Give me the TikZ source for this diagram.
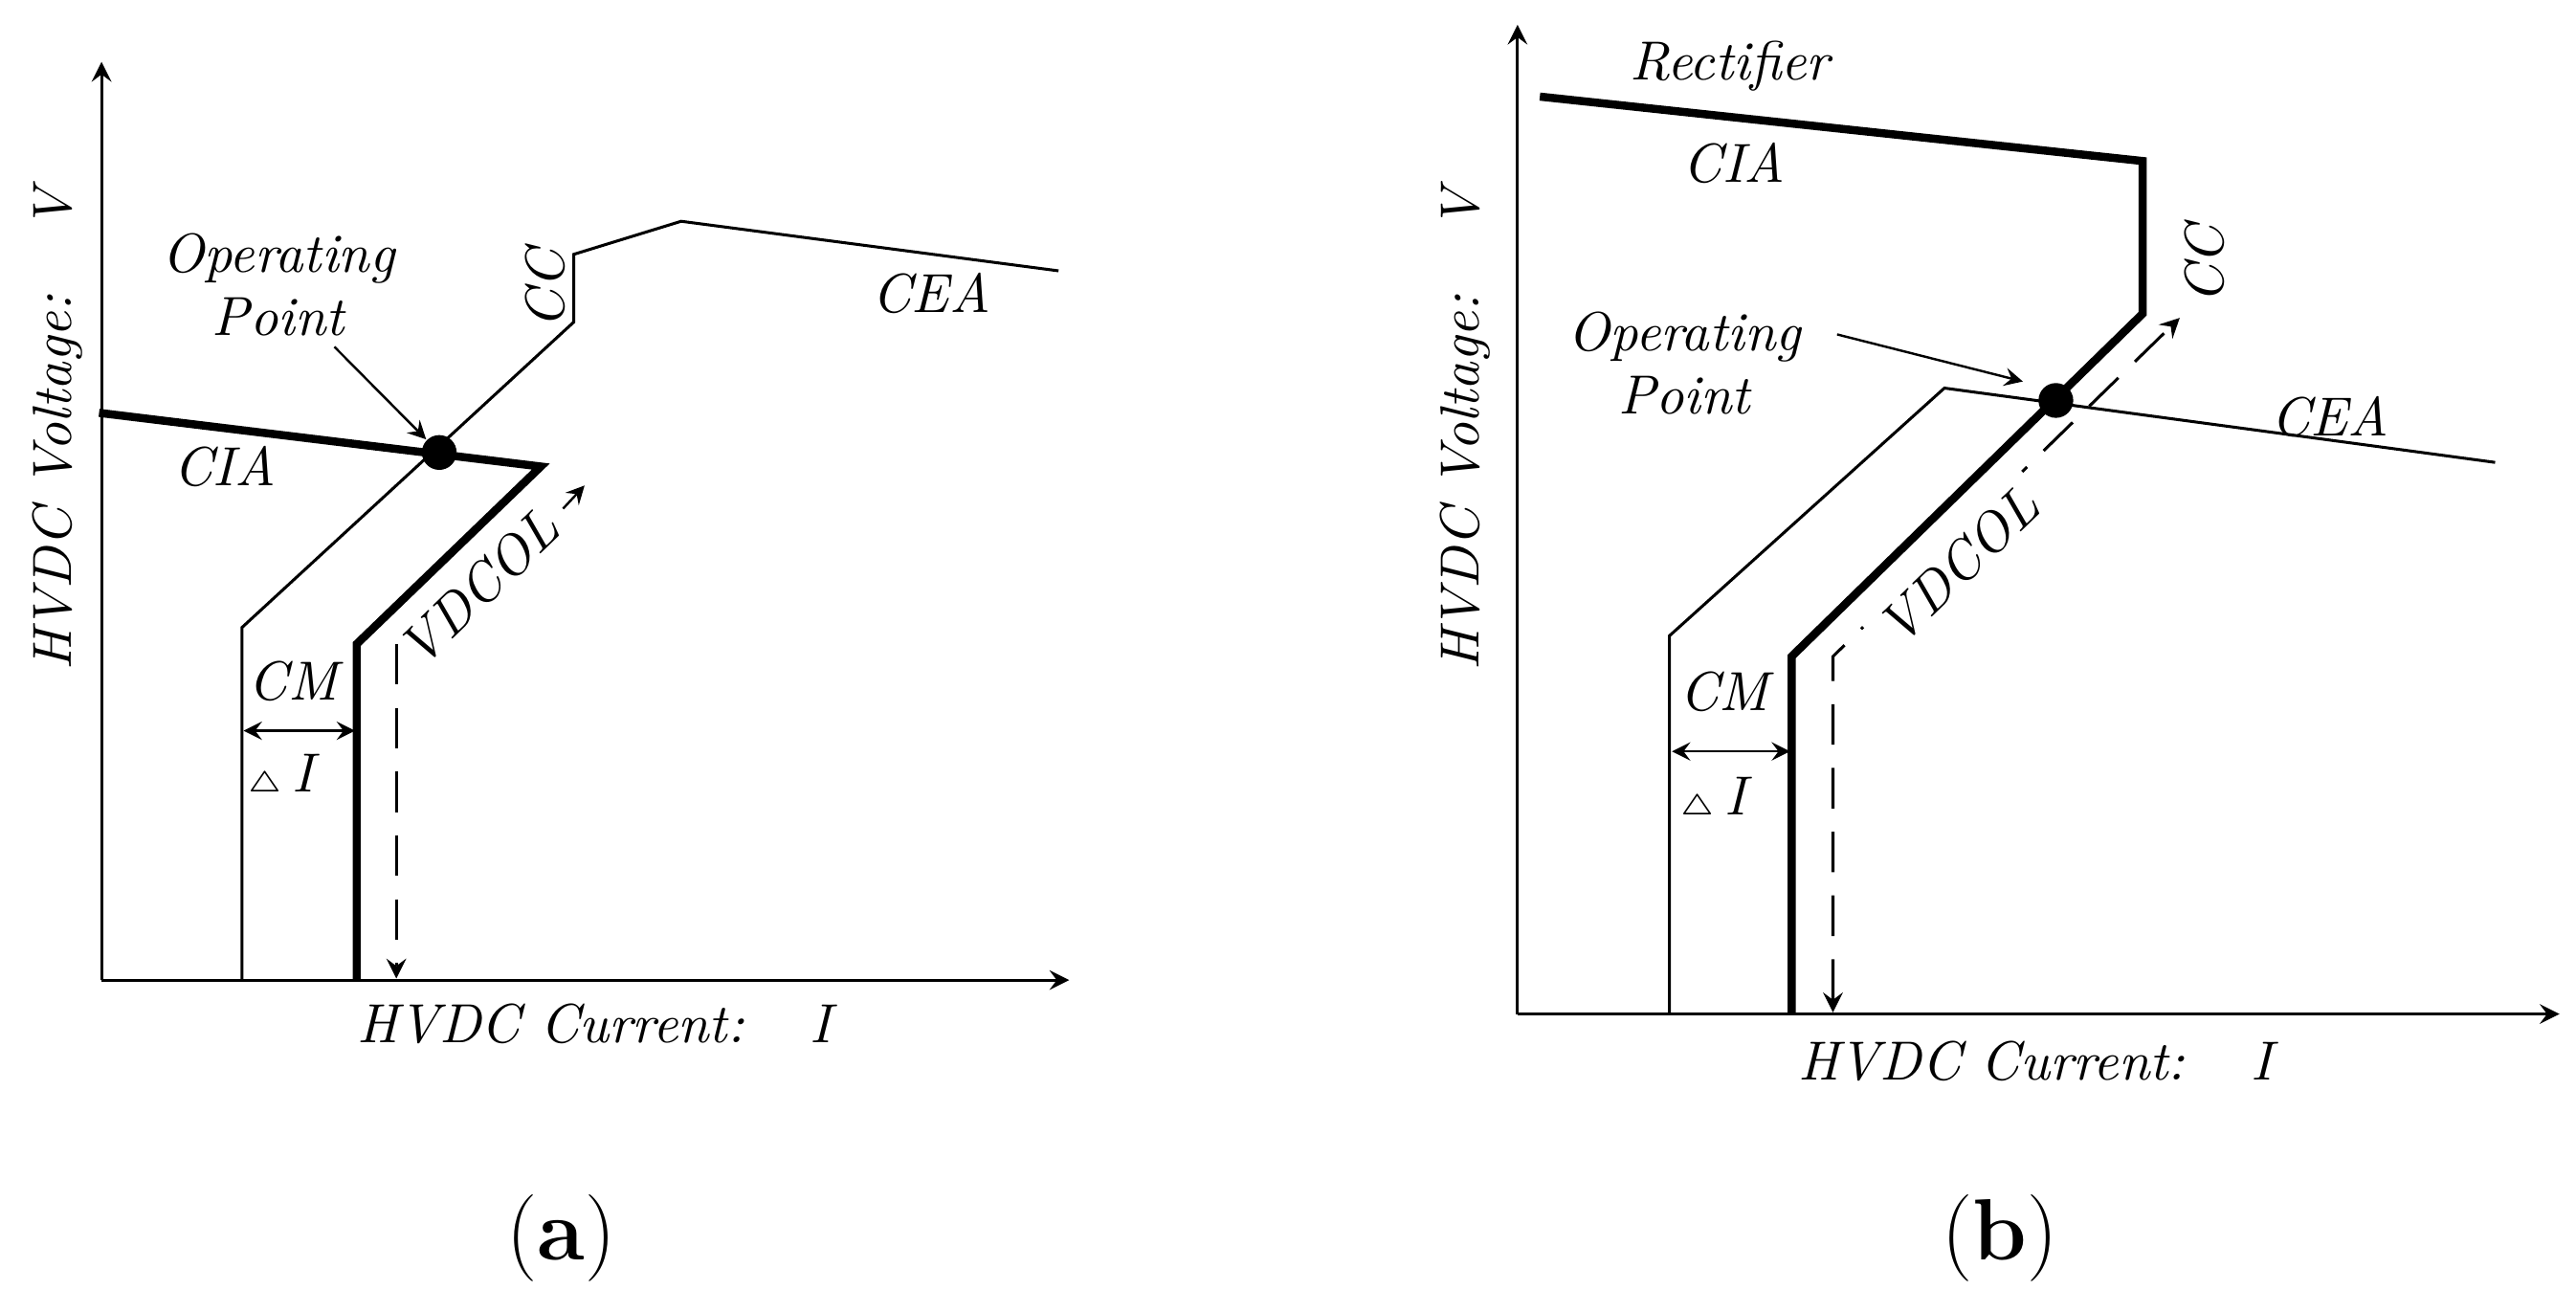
\documentclass[tikz,border=0pt]{standalone}
\begin{document}
\begin{tikzpicture}[x=0.005cm,y=-0.005cm,
  lbl/.style={font=\fontsize{9.5}{11}\selectfont\itshape,inner sep=1pt},
  thinln/.style={line width=0.5pt},
  thickln/.style={line width=1.4pt},
  ax/.style={line width=0.5pt,->,>=stealth},
  sm/.style={->,>=stealth,line width=0.4pt},
  dashln/.style={line width=0.5pt,dash pattern=on 7pt off 4pt},
  dot/.style={circle,fill,inner sep=0pt,minimum size=6pt},
  captxt/.style={font=\fontsize{15}{17}\selectfont}]
\useasboundingbox (0,0) rectangle (3120,1590);
% ---------- panel (a) ----------
\coordinate (aO) at (123,1187);
\coordinate (aY) at (123,75);
\coordinate (aX) at (1295,1187);
\draw[ax] (aO) -- (aY);
\draw[ax] (aO) -- (aX);
\draw[thinln] (293,1187) -- (293,760) -- (695,390) -- (695,308) -- (825,268) -- (1282,328);
\draw[thickln,line join=miter] (120,500) -- (655,565) -- (432,780) -- (432,1187);
\coordinate (aD1) at (480,780);
\coordinate (aD2) at (480,1185);
\draw[dashln,->,>=stealth] (aD1) -- (aD2);
\node[dot] (aP) at (532,548) {};
\node[lbl,align=center] (aOP) at (337,345) {Operating\\Point};
\draw[sm] (405,420) -- (aP.north west);
\node[lbl] (aCIA) at (272,565) {CIA};
\node[lbl,rotate=90] (aCC) at (660,350) {CC};
\node[lbl] (aCEA) at (1128,355) {CEA};
\node[lbl,rotate=44] (aVD) at (580,712) {VDCOL};
\draw[sm] (682,616) -- (708,588);
\coordinate (aC1) at (295,885);
\coordinate (aC2) at (430,885);
\draw[sm,<->] (aC1) -- (aC2);
\node[lbl] (aCM) at (355,825) {CM};
\node[lbl] (aDI) at (340,940) {$\scriptscriptstyle\triangle$\,\textit{I}};
\node[lbl,rotate=90] (aYL) at (70,520) {HVDC Voltage:\hspace{1.2em}V};
\node[lbl] (aXL) at (720,1240) {HVDC Current:\hspace{1.2em}I};
\node[captxt] (aCap) at (680,1500) {(\textbf{a})};
% ---------- panel (b) ----------
\begin{scope}[xshift=1560*0.005cm]
\coordinate (bO) at (278,1228);
\coordinate (bY) at (278,30);
\coordinate (bX) at (1540,1228);
\draw[ax] (bO) -- (bY);
\draw[ax] (bO) -- (bX);
\draw[thinln] (462,1228) -- (462,770) -- (795,470) -- (1462,560);
\draw[thickln,line join=miter] (305,117) -- (1035,195) -- (1035,380) -- (610,795) -- (610,1228);
\draw[dashln,<->,>=stealth] (660,1226) -- (660,795) -- (1080,385);
\node[dot] (bP) at (930,485) {};
\node[lbl,align=center] (bOP) at (480,440) {Operating\\Point};
\draw[sm] (665,405) -- (890,462);
\node[lbl] (bRe) at (535,80) {Rectifier};
\node[lbl] (bCIA) at (540,198) {CIA};
\node[lbl,rotate=90] (bCC) at (1110,320) {CC};
\node[lbl] (bCEA) at (1262,505) {CEA};
\node[lbl,rotate=44,fill=white,inner sep=2pt] (bVD) at (812,685) {VDCOL};
\draw[sm,<->] (465,910) -- (608,910);
\node[lbl] (bCM) at (528,838) {CM};
\node[lbl] (bDI) at (515,968) {$\scriptscriptstyle\triangle$\,\textit{I}};
\node[lbl,rotate=90] (bYL) at (215,520) {HVDC Voltage:\hspace{1.2em}V};
\node[lbl] (bXL) at (905,1285) {HVDC Current:\hspace{1.2em}I};
\node[captxt] (bCap) at (862,1500) {(\textbf{b})};
\end{scope}
\end{tikzpicture}
\end{document}
